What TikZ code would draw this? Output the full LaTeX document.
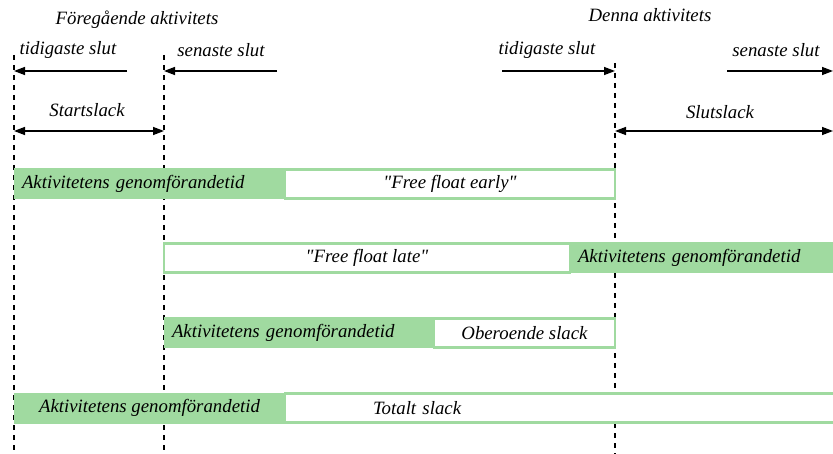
\documentclass[tikz,border=0pt]{standalone}
\usepackage{fontspec}
\setmainfont{Liberation Serif}
\usepackage{tikz}
\usetikzlibrary{positioning,arrows.meta}
\definecolor{barGreen}{RGB}{160,218,160}

\begin{document}
\begin{tikzpicture}[
        x=1pt, y=-1pt,
        every node/.style={font=\fontsize{18.8}{21}\selectfont\itshape},
        greenbar/.style={rectangle, fill=barGreen, draw=none, minimum height=31, inner sep=0pt, outer sep=0pt, anchor=west},
        slackbox/.style={rectangle, fill=white, draw=barGreen, line width=2.6pt, minimum height=28.5, inner sep=0pt, outer sep=0pt, anchor=west},
        timeline/.style={dash pattern=on 5pt off 5pt, line width=1.2pt, draw=black},
        arrow/.style={-{Triangle[length=11pt,width=8pt]}, line width=1.4pt, draw=black},
        twoway/.style={{Triangle[length=11pt,width=8pt]}-{Triangle[length=11pt,width=8pt]}, line width=1.4pt, draw=black}
        ]
        \useasboundingbox (0,0) rectangle (833,454);

        % Tidslinjer
        \coordinate (ltop) at (14,55);  \coordinate (lbot) at (14,454);
        \coordinate (mtop) at (164,55); \coordinate (mbot) at (164,454);
        \coordinate (rtop) at (615,63); \coordinate (rbot) at (615,454);
        \coordinate (edge) at (833,131);
        \draw[timeline] (ltop) -- (lbot);
        \draw[timeline] (mtop) -- (mbot);
        \draw[timeline] (rtop) -- (rbot);

        % Rubriker
        \node (prev) at (137,20) {Föregående aktivitets};
        \node (this) at (650,15) {Denna aktivitets};
        \node (prevES) at (68,50) {tidigaste slut};
        \node (prevLS) at (221,50) {senaste slut};
        \node (thisES) at (547,50) {tidigaste slut};
        \node (thisLS) at (776,50) {senaste slut};
        \node (startslack) at (87,110) {Startslack};
        \node (slutslack) at (720,112) {Slutslack};

        % Pilar
        \coordinate (prevEStail) at (127,71);
        \coordinate (prevLStail) at (277,71);
        \coordinate (thisEStail) at (502,71);
        \coordinate (thisLStail) at (727,71);
        \draw[arrow] (prevEStail) -- (prevEStail -| ltop);
        \draw[arrow] (prevLStail) -- (prevLStail -| mtop);
        \draw[arrow] (thisEStail) -- (thisEStail -| rtop);
        \draw[arrow] (thisLStail) -- (thisLStail -| edge);
        \draw[twoway] (ltop |- edge) -- (mtop |- edge);
        \draw[twoway] (rtop |- edge) -- (edge);

        % Rad 1: free float early
        \node[greenbar, minimum width=271, text width=255, align=left] (act1) at (14,184) {Aktivitetens genomförandetid};
        \node[slackbox, minimum width=330, right=0pt of act1] (ffe) {\textquotedbl Free float early\textquotedbl};

        % Rad 2: free float late
        \node[slackbox, minimum width=406] (ffl) at (164,258) {\textquotedbl Free float late\textquotedbl};
        \node[greenbar, minimum width=263, text width=247, align=left, right=0pt of ffl] (act2) {Aktivitetens genomförandetid};

        % Rad 3: oberoende slack
        \node[greenbar, minimum width=270, text width=254, align=left] (act3) at (164,333) {Aktivitetens genomförandetid};
        \node[slackbox, minimum width=181, right=0pt of act3] (indep) {Oberoende slack};

        % Rad 4: totalt slack
        \node[greenbar, minimum width=271] (act4) at (14,408) {Aktivitetens genomförandetid};
        \node[slackbox, minimum width=556, text width=380, align=left, right=0pt of act4] (total) {Totalt slack};

\end{tikzpicture}
\end{document}
